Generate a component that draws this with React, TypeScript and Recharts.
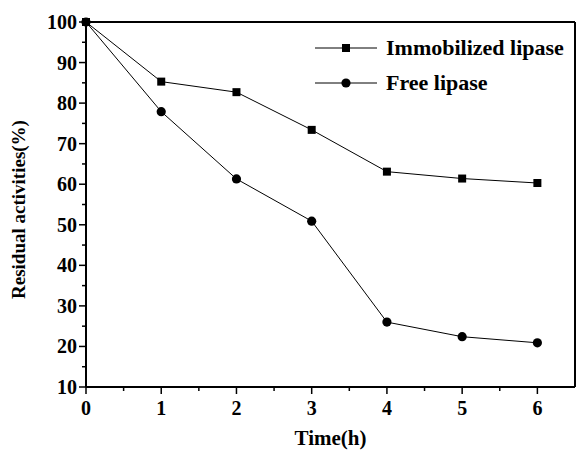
import React from 'react';
import { LineChart, Line, XAxis, YAxis, Legend } from 'recharts';

const TIME_H = [0, 1, 2, 3, 4, 5, 6];
const IMMOBILIZED = [100, 85.3, 82.7, 73.4, 63.1, 61.4, 60.3];
const FREE = [100, 77.9, 61.3, 50.9, 26.0, 22.4, 20.9];

const X_TICKS = [0, 0.5, 1, 1.5, 2, 2.5, 3, 3.5, 4, 4.5, 5, 5.5, 6];
const Y_TICKS = [10, 15, 20, 25, 30, 35, 40, 45, 50, 55, 60, 65, 70, 75, 80, 85, 90, 95, 100];
// the frame's top and right edges carry ten even divisions
const TOP_TICKS = [0.65, 1.3, 1.95, 2.6, 3.25, 3.9, 4.55, 5.2, 5.85];
const RIGHT_TICKS = [19, 28, 37, 46, 55, 64, 73, 82, 91];
const SERIES_ORDER = ['immobilized', 'free'];

const data = TIME_H.map((t, i) => ({ t, immobilized: IMMOBILIZED[i], free: FREE[i] }));

const FONT = "'Liberation Serif', 'Times New Roman', serif";
const INK = '#000';

const SquareDot = (props: any) => {
  const { cx, cy } = props;
  if (cx == null || cy == null) return null;
  return <rect x={cx - 4} y={cy - 4} width={8} height={8} fill={INK} />;
};

const CircleDot = (props: any) => {
  const { cx, cy } = props;
  if (cx == null || cy == null) return null;
  return <circle cx={cx} cy={cy} r={4.6} fill={INK} />;
};

const BottomTick = ({ x, y, payload }: any) => {
  const major = Number.isInteger(payload.value);
  return (
    <g>
      <line x1={x} x2={x} y1={y} y2={y + (major ? 7 : 4)} stroke={INK} strokeWidth={1.5} />
      {major && (
        <text x={x} y={y + 28} textAnchor="middle" fontFamily={FONT} fontWeight="bold" fontSize={20} fill={INK}>
          {payload.value}
        </text>
      )}
    </g>
  );
};

const LeftTick = ({ x, y, payload }: any) => {
  const major = payload.value % 10 === 0;
  return (
    <g>
      <line x1={x} x2={x - (major ? 7 : 4)} y1={y} y2={y} stroke={INK} strokeWidth={1.5} />
      {major && (
        <text x={x - 9} y={y + 7} textAnchor="end" fontFamily={FONT} fontWeight="bold" fontSize={20} fill={INK}>
          {payload.value}
        </text>
      )}
    </g>
  );
};

const YTitle = ({ viewBox }: any) => {
  const x = viewBox.x + 18;
  const y = viewBox.y + viewBox.height / 2 + 5;
  return (
    <text
      x={x}
      y={y}
      transform={`rotate(-90 ${x} ${y})`}
      textAnchor="middle"
      dominantBaseline="central"
      fontFamily={FONT}
      fontWeight="bold"
      fontSize={19}
      fill={INK}
    >
      Residual activities(%)
    </text>
  );
};

const LegendBox = ({ payload }: any) => {
  const items = [...(payload || [])].sort(
    (a: any, b: any) => SERIES_ORDER.indexOf(a.dataKey) - SERIES_ORDER.indexOf(b.dataKey)
  );
  return (
    <svg width={266} height={80}>
      {items.map((entry: any, i: number) => {
        const cy = 18 + i * 35;
        return (
          <g key={entry.value}>
            <line x1={5} x2={67} y1={cy} y2={cy} stroke={INK} strokeWidth={1} />
            {entry.dataKey === 'immobilized' ? <SquareDot cx={36} cy={cy} /> : <CircleDot cx={36} cy={cy} />}
            <text x={76} y={cy + 7} fontFamily={FONT} fontWeight="bold" fontSize={22} fill={INK}>
              {entry.value}
            </text>
          </g>
        );
      })}
    </svg>
  );
};

export default function App() {
  return (
    <div style={{ position: 'absolute', left: 0, top: 0, width: 576, height: 452, background: '#fff' }}>
      <LineChart width={576} height={452} data={data} margin={{ top: 22, right: 1, left: 0, bottom: 0 }}>
        <XAxis
          dataKey="t"
          type="number"
          domain={[0, 6.5]}
          ticks={X_TICKS}
          interval={0}
          height={65}
          tickSize={0}
          tickMargin={0}
          tickLine={false}
          axisLine={{ stroke: INK, strokeWidth: 2 }}
          tick={<BottomTick />}
          label={{ value: 'Time(h)', position: 'insideBottom', offset: 7, fontFamily: FONT, fontWeight: 'bold', fontSize: 21, fill: INK }}
        />
        <XAxis
          xAxisId="top"
          orientation="top"
          type="number"
          domain={[0, 6.5]}
          ticks={TOP_TICKS}
          mirror
          tick={false}
          tickSize={3}
          tickLine={{ stroke: INK, strokeWidth: 1 }}
          axisLine={{ stroke: INK, strokeWidth: 2 }}
        />
        <YAxis
          type="number"
          domain={[10, 100]}
          ticks={Y_TICKS}
          interval={0}
          width={86}
          tickSize={0}
          tickMargin={0}
          tickLine={false}
          axisLine={{ stroke: INK, strokeWidth: 2 }}
          tick={<LeftTick />}
          label={<YTitle />}
        />
        <YAxis
          yAxisId="right"
          orientation="right"
          type="number"
          domain={[10, 100]}
          ticks={RIGHT_TICKS}
          mirror
          tick={false}
          tickSize={3}
          tickLine={{ stroke: INK, strokeWidth: 1 }}
          axisLine={{ stroke: INK, strokeWidth: 2 }}
        />
        <Legend
          layout="vertical"
          align="center"
          verticalAlign="middle"
          content={<LegendBox />}
          wrapperStyle={{ left: 310, top: 30, width: 266, height: 80 }}
        />
        <Line
          dataKey="immobilized"
          name="Immobilized lipase"
          stroke={INK}
          strokeWidth={1}
          dot={<SquareDot />}
          activeDot={false}
          isAnimationActive={false}
        />
        <Line
          dataKey="free"
          name="Free lipase"
          stroke={INK}
          strokeWidth={1}
          dot={<CircleDot />}
          activeDot={false}
          isAnimationActive={false}
        />
      </LineChart>
    </div>
  );
}
